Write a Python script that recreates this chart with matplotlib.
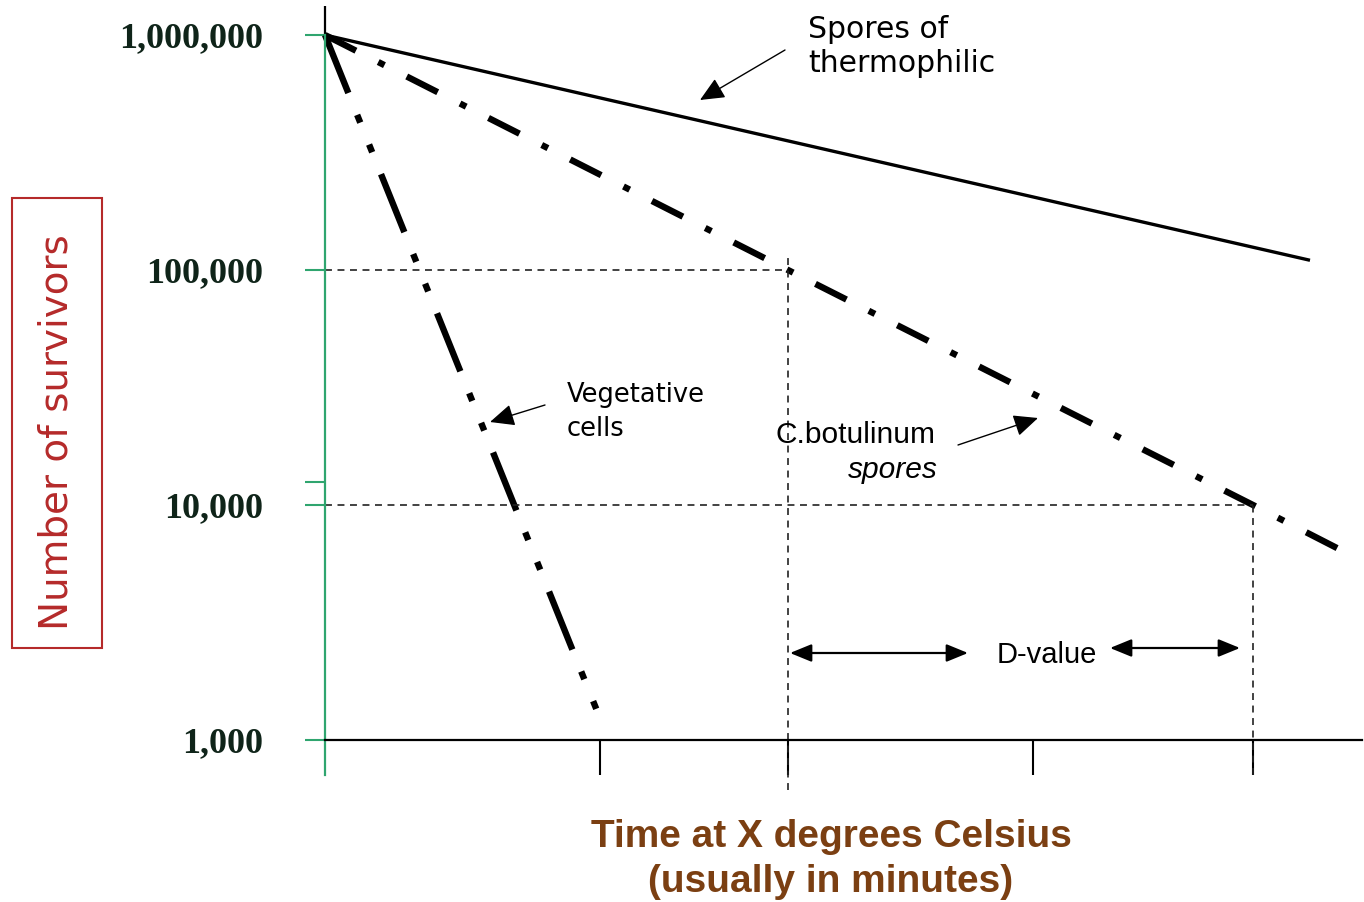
import numpy as np
import matplotlib
matplotlib.use("Agg")
import matplotlib.pyplot as plt
from matplotlib.ticker import FixedLocator, FixedFormatter, NullFormatter
from matplotlib.patches import Rectangle, FancyArrowPatch

# ---------------- data ----------------
# time (arbitrary minutes) and number of survivors
thermo_x = [0.0, 9.85]
thermo_y = [1_000_000, 110_000]

botul_x = [0.0, 4.63, 9.28, 10.2]
botul_y = [1_000_000, 100_000, 10_000, 6_300]

veget_x = [0.0, 2.73]
veget_y = [1_000_000, 1_300]

y_ticks = [1_000, 10_000, 100_000, 1_000_000]
y_tick_labels = ["1,000", "10,000", "100,000", "1,000,000"]
x_ticks = [2.75, 4.63, 7.08, 9.28]
d_value_points = [4.63, 9.28]   # times where botulinum reaches 100,000 and 10,000

# ---------------- figure ----------------
plt.rcParams["lines.scale_dashes"] = False
W, H = 1364, 902
fig = plt.figure(figsize=(W / 100, H / 100), dpi=100)

DEC = 235.0  # pixels per decade
ax_left_px, ax_right_px = 300, 1362
ax_top_px, ax_bot_px = 5, 800
ax = fig.add_axes([ax_left_px / W, 1 - ax_bot_px / H,
                   (ax_right_px - ax_left_px) / W, (ax_bot_px - ax_top_px) / H])
ax.set_yscale("log")
ymin = 10 ** (3 - (ax_bot_px - 740) / DEC)
ymax = 10 ** (6 + (35 - ax_top_px) / DEC)
ax.set_ylim(ymin, ymax)
ax.set_xlim(-0.25, 10.37)
ax.patch.set_alpha(0)

green = "#2fa56f"
for s in ("top", "right"):
    ax.spines[s].set_visible(False)
ax.spines["left"].set_position(("data", 0))
ax.spines["left"].set_color(green)
ax.spines["left"].set_linewidth(1.6)
ax.spines["left"].set_bounds(10 ** (3 - 35 / DEC), 1_000_000)
ax.spines["bottom"].set_position(("data", 1_000))
ax.spines["bottom"].set_color("black")
ax.spines["bottom"].set_linewidth(1.6)
ax.spines["bottom"].set_bounds(0, 10.37)

# black extension of the vertical axis above 1,000,000
ax.vlines(0, 1_000_000, ymax * 0.99, color="black", lw=1.6)

# x ticks
ax.xaxis.set_major_locator(FixedLocator(x_ticks))
ax.xaxis.set_major_formatter(NullFormatter())
ax.xaxis.set_minor_locator(FixedLocator([]))
ax.tick_params(axis="x", which="major", direction="out", length=25, width=1.5, color="black")

# y ticks
ax.yaxis.set_major_locator(FixedLocator(y_ticks))
ax.yaxis.set_major_formatter(FixedFormatter(y_tick_labels))
ax.yaxis.set_minor_locator(FixedLocator([12_500]))
ax.yaxis.set_minor_formatter(NullFormatter())
ax.tick_params(axis="y", which="both", direction="out", length=14.4, width=1.5,
               color=green, pad=30)
for lab in ax.get_yticklabels():
    lab.set_fontfamily("Liberation Serif")
    lab.set_fontweight("bold")
    lab.set_fontsize(26)
    lab.set_color("#0f2419")

# survival curves
ax.plot(thermo_x, thermo_y, color="black", lw=2.4, solid_capstyle="butt")
ax.plot(botul_x, botul_y, color="black", lw=4.6, dash_capstyle="butt",
        linestyle=(0, (25, 18, 5, 18)))
ax.plot(veget_x, veget_y, color="black", lw=4.6, dash_capstyle="butt",
        linestyle=(0, (45, 17, 6, 17, 6, 17)))

# guide lines for the D-value
dash = (0, (5, 4))
ax.hlines(y_ticks[2], 0, d_value_points[0], colors="#222222", lw=1.2, linestyles=[dash])
ax.hlines(y_ticks[1], 0, d_value_points[1], colors="#222222", lw=1.2, linestyles=[dash])
ax.vlines(d_value_points[0], 10 ** (3 - 50 / DEC), 115_000, colors="#222222", lw=1.2,
          linestyles=[dash])
ax.vlines(d_value_points[1], 10 ** (3 - 35 / DEC), 10_000, colors="#222222", lw=1.2,
          linestyles=[dash])

# D-value double arrows
arr = dict(arrowstyle="<|-|>,head_length=1.1,head_width=0.45", color="black", lw=1.6,
           shrinkA=0, shrinkB=0, mutation_scale=12)
yv1 = 10 ** (6 - 618 / DEC)
yv2 = 10 ** (6 - 613 / DEC)
ax.annotate("", xy=(d_value_points[0] + 0.02, yv1), xytext=(6.43, yv1), arrowprops=arr)
ax.annotate("", xy=(7.85, yv2), xytext=(d_value_points[1] - 0.13, yv2), arrowprops=arr)


def fp(px, py):
    return (px / W, 1 - py / H)


fig.text(*fp(1047, 655), "D-value", family="Liberation Sans", fontsize=21,
         ha="center", va="center")

# annotation labels
fig.text(*fp(808, 38), "Spores of", family="DejaVu Sans", fontsize=21.5, ha="left",
         va="baseline")
fig.text(*fp(808, 72), "thermophilic", family="DejaVu Sans", fontsize=21.5, ha="left",
         va="baseline")
fig.text(*fp(567, 402), "Vegetative", family="DejaVu Sans", fontsize=18.5, ha="left",
         va="baseline")
fig.text(*fp(567, 436), "cells", family="DejaVu Sans", fontsize=18.5, ha="left",
         va="baseline")
fig.text(*fp(775, 443), "C.botulinum", family="Liberation Sans", fontsize=21.5, ha="left",
         va="baseline")
fig.text(*fp(938, 478), "spores", family="Liberation Sans", fontsize=21.5, ha="right",
         va="baseline", style="italic")

pointer = dict(arrowstyle="-|>,head_length=1.0,head_width=0.45", color="black", lw=1.0,
               shrinkA=0, shrinkB=0, mutation_scale=15)
for tail, head in [((785, 50), (700, 100)), ((545, 405), (490, 422)),
                   ((958, 445), (1038, 418))]:
    fig.add_artist(FancyArrowPatch(fp(*tail), fp(*head), transform=fig.transFigure,
                                   **pointer))

# axis titles
red = "#b52a2a"
fig.text(*fp(57, 432), "Number of survivors", family="DejaVu Sans", fontsize=28,
         rotation=90, ha="center", va="center", color=red)
fig.add_artist(Rectangle(fp(12, 648), 90 / W, 450 / H, transform=fig.transFigure,
                         fill=False, edgecolor=red, lw=1.5))

brown = "#7b3f12"
fig.text(*fp(831, 847), "Time at X degrees Celsius", family="Liberation Sans",
         fontweight="bold", fontsize=28, ha="center", va="baseline", color=brown)
fig.text(*fp(831, 892), "(usually in minutes)", family="Liberation Sans",
         fontweight="bold", fontsize=28, ha="center", va="baseline", color=brown)

fig.canvas.draw()
for t in ax.yaxis.get_major_ticks():
    if abs(t.get_loc() - 1_000_000) < 1:
        t.tick1line.set_color("black")

fig.savefig("out.png", dpi=100)
